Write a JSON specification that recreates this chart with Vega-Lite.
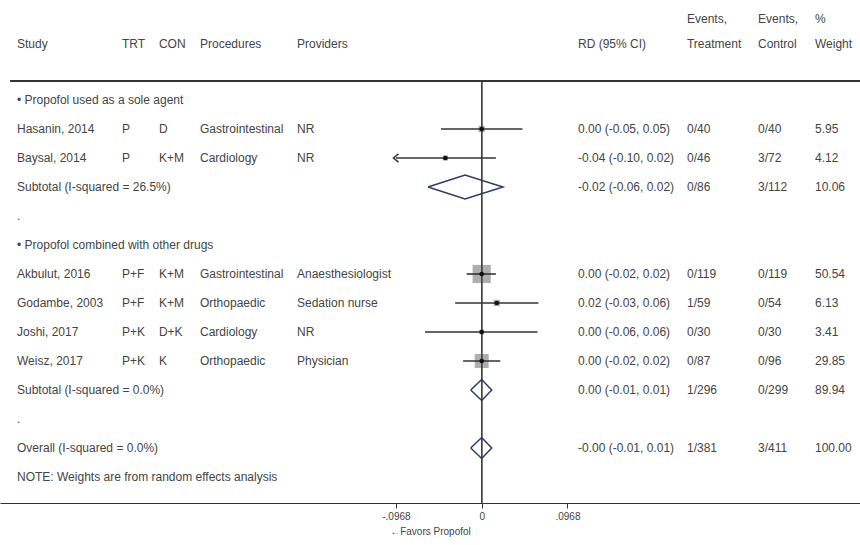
{
  "$schema": "https://vega.github.io/schema/vega-lite/v6.json",
  "width": 860,
  "height": 503,
  "padding": {"left": 0, "top": 0, "right": 0, "bottom": 42},
  "autosize": {"type": "none"},
  "background": "white",
  "config": {
    "view": {"stroke": null},
    "text": {"font": "Liberation Sans", "fontSize": 12, "color": "#444", "align": "left", "baseline": "middle"},
    "axis": {"grid": false}
  },
  "datasets": {
    "table": [
      {"row": -1.8, "study": "", "trt": "", "con": "", "proc": "", "prov": "", "rd": "", "et": "Events,", "ec": "Events,", "w": "%"},
      {"row": -0.93, "study": "Study", "trt": "TRT", "con": "CON", "proc": "Procedures", "prov": "Providers", "rd": "RD (95% CI)", "et": "Treatment", "ec": "Control", "w": "Weight"},
      {"row": 1, "study": "• Propofol used as a sole agent", "trt": "", "con": "", "proc": "", "prov": "", "rd": "", "et": "", "ec": "", "w": ""},
      {"row": 2, "study": "Hasanin, 2014", "trt": "P", "con": "D", "proc": "Gastrointestinal", "prov": "NR", "rd": "0.00 (-0.05, 0.05)", "et": "0/40", "ec": "0/40", "w": "5.95"},
      {"row": 3, "study": "Baysal, 2014", "trt": "P", "con": "K+M", "proc": "Cardiology", "prov": "NR", "rd": "-0.04 (-0.10, 0.02)", "et": "0/46", "ec": "3/72", "w": "4.12"},
      {"row": 4, "study": "Subtotal  (I-squared = 26.5%)", "trt": "", "con": "", "proc": "", "prov": "", "rd": "-0.02 (-0.06, 0.02)", "et": "0/86", "ec": "3/112", "w": "10.06"},
      {"row": 5, "study": ".", "trt": "", "con": "", "proc": "", "prov": "", "rd": "", "et": "", "ec": "", "w": ""},
      {"row": 6, "study": "• Propofol combined with other drugs", "trt": "", "con": "", "proc": "", "prov": "", "rd": "", "et": "", "ec": "", "w": ""},
      {"row": 7, "study": "Akbulut, 2016", "trt": "P+F", "con": "K+M", "proc": "Gastrointestinal", "prov": "Anaesthesiologist", "rd": "0.00 (-0.02, 0.02)", "et": "0/119", "ec": "0/119", "w": "50.54"},
      {"row": 8, "study": "Godambe, 2003", "trt": "P+F", "con": "K+M", "proc": "Orthopaedic", "prov": "Sedation nurse", "rd": "0.02 (-0.03, 0.06)", "et": "1/59", "ec": "0/54", "w": "6.13"},
      {"row": 9, "study": "Joshi, 2017", "trt": "P+K", "con": "D+K", "proc": "Cardiology", "prov": "NR", "rd": "0.00 (-0.06, 0.06)", "et": "0/30", "ec": "0/30", "w": "3.41"},
      {"row": 10, "study": "Weisz, 2017", "trt": "P+K", "con": "K", "proc": "Orthopaedic", "prov": "Physician", "rd": "0.00 (-0.02, 0.02)", "et": "0/87", "ec": "0/96", "w": "29.85"},
      {"row": 11, "study": "Subtotal  (I-squared = 0.0%)", "trt": "", "con": "", "proc": "", "prov": "", "rd": "0.00 (-0.01, 0.01)", "et": "1/296", "ec": "0/299", "w": "89.94"},
      {"row": 12, "study": ".", "trt": "", "con": "", "proc": "", "prov": "", "rd": "", "et": "", "ec": "", "w": ""},
      {"row": 13, "study": "Overall  (I-squared = 0.0%)", "trt": "", "con": "", "proc": "", "prov": "", "rd": "-0.00 (-0.01, 0.01)", "et": "1/381", "ec": "3/411", "w": "100.00"},
      {"row": 14, "study": "NOTE: Weights are from random effects analysis", "trt": "", "con": "", "proc": "", "prov": "", "rd": "", "et": "", "ec": "", "w": ""}
    ],
    "studies": [
      {"name": "Hasanin, 2014", "row": 2, "est": 0.0, "lo": -0.046, "hi": 0.046, "weight": 5.95, "arrow": false},
      {"name": "Baysal, 2014", "row": 3, "est": -0.041, "lo": -0.0968, "hi": 0.016, "weight": 4.12, "arrow": true},
      {"name": "Akbulut, 2016", "row": 7, "est": 0.0, "lo": -0.017, "hi": 0.016, "weight": 50.54, "arrow": false},
      {"name": "Godambe, 2003", "row": 8, "est": 0.017, "lo": -0.030, "hi": 0.064, "weight": 6.13, "arrow": false},
      {"name": "Joshi, 2017", "row": 9, "est": 0.0, "lo": -0.064, "hi": 0.063, "weight": 3.41, "arrow": false},
      {"name": "Weisz, 2017", "row": 10, "est": 0.0, "lo": -0.021, "hi": 0.021, "weight": 29.85, "arrow": false}
    ],
    "diamonds": [
      {"d": "sub1", "ord": 1, "x": -0.0606, "y": 4},
      {"d": "sub1", "ord": 2, "x": -0.0188, "y": 3.59},
      {"d": "sub1", "ord": 3, "x": 0.024, "y": 4},
      {"d": "sub1", "ord": 4, "x": -0.0188, "y": 4.41},
      {"d": "sub1", "ord": 5, "x": -0.0606, "y": 4},
      {"d": "sub2", "ord": 1, "x": -0.0124, "y": 11},
      {"d": "sub2", "ord": 2, "x": 0.0, "y": 10.64},
      {"d": "sub2", "ord": 3, "x": 0.0113, "y": 11},
      {"d": "sub2", "ord": 4, "x": 0.0, "y": 11.36},
      {"d": "sub2", "ord": 5, "x": -0.0124, "y": 11},
      {"d": "overall", "ord": 1, "x": -0.0124, "y": 13},
      {"d": "overall", "ord": 2, "x": 0.0, "y": 12.64},
      {"d": "overall", "ord": 3, "x": 0.0113, "y": 13},
      {"d": "overall", "ord": 4, "x": 0.0, "y": 13.36},
      {"d": "overall", "ord": 5, "x": -0.0124, "y": 13}
    ]
  },
  "layer": [
    {
      "data": {"name": "studies"},
      "mark": {"type": "point", "shape": "square", "filled": true, "color": "#9a9a9a", "opacity": 0.8},
      "encoding": {
        "x": {
          "field": "est", "type": "quantitative",
          "scale": {"domain": [-0.5437, 0.427], "nice": false, "zero": false},
          "axis": {
            "values": [-0.0968, 0, 0.0968],
            "labelExpr": "datum.value == 0 ? '0' : (datum.value < 0 ? '-' : '') + replace(format(abs(datum.value), '.4f'), '0.', '.')",
            "domainColor": "#333", "domainWidth": 1,
            "tickColor": "#333", "tickSize": 5,
            "labelFont": "Liberation Sans", "labelFontSize": 10, "labelColor": "#444", "labelPadding": 3,
            "title": "←Favors Propofol", "titleFont": "Liberation Sans", "titleFontSize": 10,
            "titleFontWeight": "normal", "titleColor": "#444", "titlePadding": 5
          }
        },
        "y": {"field": "row", "type": "quantitative", "scale": {"domain": [-2.448, 14.897], "reverse": true, "nice": false, "zero": false}, "axis": null},
        "size": {"field": "weight", "type": "quantitative", "scale": {"type": "linear", "domain": [0, 50.54], "range": [0, 330]}, "legend": null}
      }
    },
    {
      "data": {"name": "studies"},
      "mark": {"type": "rule", "color": "#444", "strokeWidth": 1},
      "encoding": {
        "x": {"datum": 0},
        "y": {"datum": 0.345},
        "y2": {"datum": 14.897}
      }
    },
    {
      "data": {"name": "studies"},
      "mark": {"type": "rule", "color": "#333", "strokeWidth": 1},
      "encoding": {
        "x": {"datum": -0.532},
        "x2": {"datum": 0.427},
        "y": {"datum": 0.345}
      }
    },
    {
      "data": {"name": "studies"},
      "mark": {"type": "rule", "color": "#333", "strokeWidth": 1.6},
      "encoding": {
        "x": {"field": "lo", "type": "quantitative"},
        "x2": {"field": "hi"},
        "y": {"field": "row", "type": "quantitative"}
      }
    },
    {
      "data": {"name": "studies"},
      "mark": {"type": "point", "shape": "circle", "filled": true, "color": "#111", "size": 22, "opacity": 1},
      "encoding": {
        "x": {"field": "est", "type": "quantitative"},
        "y": {"field": "row", "type": "quantitative"}
      }
    },
    {
      "data": {"name": "studies"},
      "transform": [{"filter": "datum.arrow"}],
      "mark": {"type": "point", "shape": "M 0.6 -1 L -0.6 0 L 0.6 1", "filled": false, "color": "#333", "strokeWidth": 1.5, "size": 70, "opacity": 1},
      "encoding": {
        "x": {"field": "lo", "type": "quantitative"},
        "y": {"field": "row", "type": "quantitative"}
      }
    },
    {
      "data": {"name": "diamonds"},
      "mark": {"type": "line", "color": "#2b3a6b", "strokeWidth": 1.5},
      "encoding": {
        "x": {"field": "x", "type": "quantitative"},
        "y": {"field": "y", "type": "quantitative"},
        "detail": {"field": "d"},
        "order": {"field": "ord", "type": "quantitative"}
      }
    },
    {"data": {"name": "table"}, "mark": "text", "encoding": {"x": {"datum": -0.5245}, "y": {"field": "row", "type": "quantitative"}, "text": {"field": "study"}}},
    {"data": {"name": "table"}, "mark": "text", "encoding": {"x": {"datum": -0.406}, "y": {"field": "row", "type": "quantitative"}, "text": {"field": "trt"}}},
    {"data": {"name": "table"}, "mark": "text", "encoding": {"x": {"datum": -0.3643}, "y": {"field": "row", "type": "quantitative"}, "text": {"field": "con"}}},
    {"data": {"name": "table"}, "mark": "text", "encoding": {"x": {"datum": -0.318}, "y": {"field": "row", "type": "quantitative"}, "text": {"field": "proc"}}},
    {"data": {"name": "table"}, "mark": "text", "encoding": {"x": {"datum": -0.2085}, "y": {"field": "row", "type": "quantitative"}, "text": {"field": "prov"}}},
    {"data": {"name": "table"}, "mark": "text", "encoding": {"x": {"datum": 0.1087}, "y": {"field": "row", "type": "quantitative"}, "text": {"field": "rd"}}},
    {"data": {"name": "table"}, "mark": "text", "encoding": {"x": {"datum": 0.2317}, "y": {"field": "row", "type": "quantitative"}, "text": {"field": "et"}}},
    {"data": {"name": "table"}, "mark": "text", "encoding": {"x": {"datum": 0.3119}, "y": {"field": "row", "type": "quantitative"}, "text": {"field": "ec"}}},
    {"data": {"name": "table"}, "mark": "text", "encoding": {"x": {"datum": 0.3762}, "y": {"field": "row", "type": "quantitative"}, "text": {"field": "w"}}}
  ]
}
